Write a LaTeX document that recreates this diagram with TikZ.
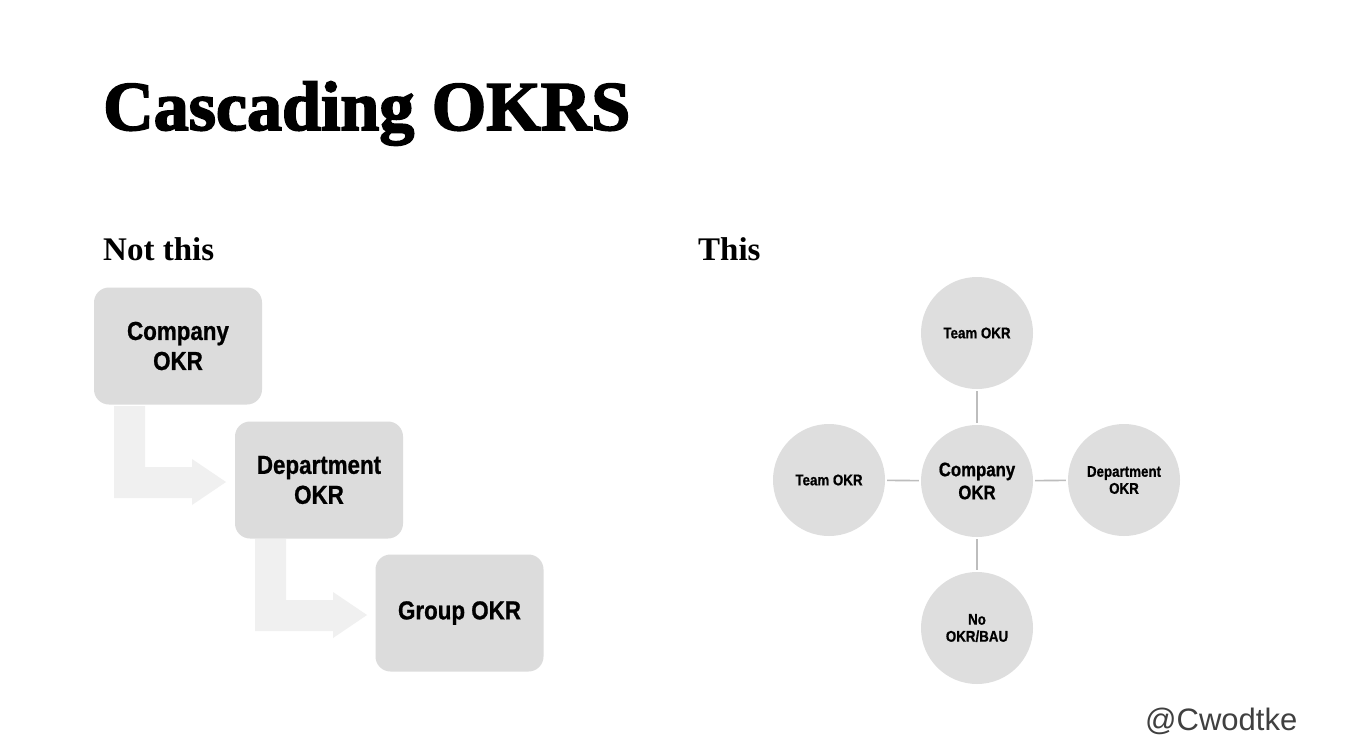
\documentclass[tikz,border=0pt]{standalone}
\usepackage{fontspec}
\setmainfont{Liberation Serif}
\newfontfamily\titlefont[FakeBold=2.5]{Liberation Serif}
\newfontfamily\boxfont[FakeStretch=0.86,FakeBold=0.8]{Liberation Sans}
\newfontfamily\handfont{Liberation Sans}
\usetikzlibrary{calc}
\definecolor{boxgray}{HTML}{DCDCDC}
\definecolor{arrowgray}{HTML}{F0F0F0}
\definecolor{circgray}{HTML}{DEDEDE}
\definecolor{linegray}{HTML}{BDBDBD}
\tikzset{
  okrbox/.style={rectangle, rounded corners=15pt, fill=boxgray, minimum width=168pt, minimum height=117pt, inner sep=0pt, align=center, font={\boxfont\bfseries\fontsize{26}{30}\selectfont}},
  okrcirc/.style={circle, fill=circgray, minimum size=112pt, inner sep=0pt, align=center, font={\boxfont\bfseries\fontsize{15.5}{17}\selectfont}},
  blockarrow/.style={fill=arrowgray, draw=none},
  link/.style={draw=linegray, line width=1.6pt, shorten >=2pt, shorten <=2pt},
  heading/.style={anchor=base west, inner sep=0pt, font={\bfseries\fontsize{33}{36}\selectfont}}
}
\begin{document}
\begin{tikzpicture}[x=1pt, y=-1pt]
\useasboundingbox (0,0) rectangle (1360,752);
\fill[white] (0,0) rectangle (1360,752);
% title
\node[anchor=base west, inner sep=0pt, font={\titlefont\bfseries\fontsize{70}{80}\selectfont}] (title) at (103,130) {Cascading OKRS};
\node[heading] (notthis) at (103,260) {Not this};
\node[heading] (this) at (698,260) {This};
% left: block arrows
\fill[blockarrow] (114,406) -- (145,406) -- (145,467) -- (192,467) -- (192,459) -- (226,482) -- (192,505) -- (192,498) -- (114,498) -- cycle;
\fill[blockarrow] (255,539) -- (286,539) -- (286,600) -- (333,600) -- (333,592) -- (367,615) -- (333,638) -- (333,631) -- (255,631) -- cycle;
% boxes
\node[okrbox] (company) at (178,346) {Company\\OKR};
\node[okrbox] (dept) at (319,480) {Department\\OKR};
\node[okrbox] (group) at (459.5,613) {Group OKR};
% right: circles
\node[okrcirc] (ctop) at (977,333) {Team OKR};
\node[okrcirc] (cleft) at (829,480) {Team OKR};
\node[okrcirc, font={\boxfont\bfseries\fontsize{19.5}{23}\selectfont}] (ccenter) at (977,481) {Company\\OKR};
\node[okrcirc] (cright) at (1124,480) {Department\\OKR};
\node[okrcirc] (cbottom) at (977,628) {No\\OKR/BAU};
\draw[link] (ccenter) -- (ctop);
\draw[link] (ccenter) -- (cleft);
\draw[link] (ccenter) -- (cright);
\draw[link] (ccenter) -- (cbottom);
% signature
\node[anchor=base west, inner sep=0pt, text=black!75, font={\handfont\fontsize{31}{36}\selectfont}] (sig) at (1145,730) {@Cwodtke};
\end{tikzpicture}
\end{document}
